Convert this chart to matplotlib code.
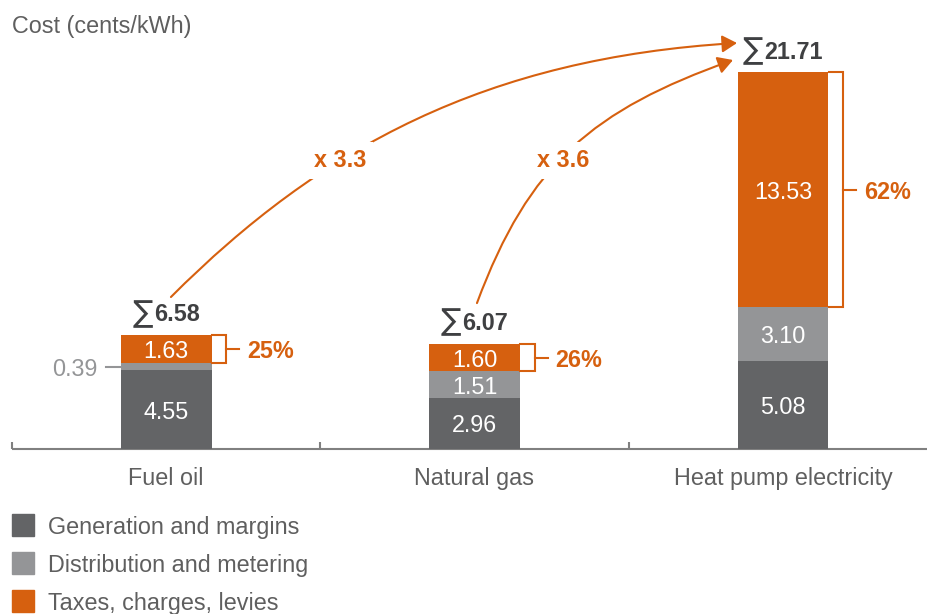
import matplotlib
matplotlib.use("Agg")
import numpy as np
import matplotlib.pyplot as plt
from matplotlib.patches import Rectangle, FancyArrowPatch
from matplotlib.path import Path

# ---------------- data ----------------
categories = ["Fuel oil", "Natural gas", "Heat pump electricity"]
generation = [4.55, 2.96, 5.08]
distribution = [0.39, 1.51, 3.10]
taxes = [1.63, 1.60, 13.53]
totals = [6.58, 6.07, 21.71]
tax_shares = ["25%", "26%", "62%"]
multipliers = ["x 3.3", "x 3.6"]
series_names = ["Generation and margins", "Distribution and metering",
                "Taxes, charges, levies"]
y_title = "Cost (cents/kWh)"

# ---------------- style ----------------
C_GEN = "#636466"
C_DIST = "#949597"
C_TAX = "#D6600F"
C_TEXT = "#5f5f5f"
C_SUM = "#3f4042"
C_AXIS = "#808080"
FS = 16.8
VA = "center_baseline"
plt.rcParams["font.family"] = ["Liberation Sans", "DejaVu Sans"]

W, H = 928, 614
fig = plt.figure(figsize=(W / 100, H / 100), dpi=100)
ax = fig.add_axes([0, 0, 1, 1])
# scale: category spacing 308.5 px, 17.35 px per cent/kWh, baseline at 449 px
XS, YS, X0, Y0 = 308.5, 17.35, 166, 449
ax.set_xlim(-X0 / XS, (W - X0) / XS)
ax.set_ylim((Y0 - H) / YS, Y0 / YS)
ax.axis("off")

x = np.arange(len(categories))
gen = np.array(generation)
dist = np.array(distribution)
tax = np.array(taxes)
bw = 91 / XS

# baseline and ticks
ax.plot([-0.5, 2.6], [0, 0], color=C_AXIS, lw=1.5, zorder=1,
        solid_capstyle="butt")
for t in [-0.5, 0.5, 1.5, 2.5]:
    ax.plot([t, t], [0, 7 / YS], color=C_AXIS, lw=1.5, zorder=1,
            solid_capstyle="butt")

# bars
ax.bar(x, gen, bw, color=C_GEN, zorder=2)
ax.bar(x, dist, bw, bottom=gen, color=C_DIST, zorder=2)
ax.bar(x, tax, bw, bottom=gen + dist, color=C_TAX, zorder=2)

# segment value labels
for i in range(len(x)):
    bottoms = [0, gen[i], gen[i] + dist[i]]
    for val, b in zip([gen[i], dist[i], tax[i]], bottoms):
        if val >= 1:
            ax.text(x[i], b + val / 2, f"{val:.2f}", ha="center", va=VA,
                    color="white", fontsize=FS, zorder=3)
        else:
            ym = b + val / 2
            xl = x[i] - bw / 2
            ax.plot([xl - 15 / XS, xl], [ym, ym], color=C_DIST, lw=1.5,
                    zorder=3)
            ax.text(xl - 23 / XS, ym, f"{val:.2f}", ha="right", va=VA,
                    color=C_DIST, fontsize=FS, zorder=3)

# brackets with tax shares
for i in range(len(x)):
    y0 = gen[i] + dist[i]
    y1 = y0 + tax[i]
    xe = x[i] + bw / 2
    xb = xe + 14.5 / XS
    ax.plot([xe, xb, xb, xe], [y1, y1, y0, y0], color=C_TAX, lw=1.5,
            zorder=3, solid_joinstyle="miter")
    ym = (y0 + y1) / 2
    ax.plot([xb, xb + 13 / XS], [ym, ym], color=C_TAX, lw=1.5, zorder=3)
    ax.text(xb + 21 / XS, ym, tax_shares[i], ha="left", va=VA,
            color=C_TAX, fontsize=FS, fontweight="bold", zorder=3)

# totals: thin sum sign + bold number, centred over the bar as a group
renderer = fig.canvas.get_renderer()
SIG_DY = 1.5
for i in range(len(x)):
    num = f"{totals[i]:.2f}"
    anchor = (x[i], totals[i] + 1.3)
    sig = ax.annotate("\u2211", anchor, xytext=(0, SIG_DY),
                      textcoords="offset points", ha="left", va=VA,
                      color=C_SUM, fontsize=FS * 1.3, zorder=3,
                      family=["DejaVu Sans"])
    nt = ax.annotate(num, anchor, xytext=(0, 0), textcoords="offset points",
                     ha="left", va=VA, color=C_SUM, fontsize=FS,
                     fontweight="bold", zorder=3)
    sw = sig.get_window_extent(renderer).width
    nw = nt.get_window_extent(renderer).width
    gap = 1.0
    left = -(sw + gap + nw) / 2
    sig.set_position((left * 0.72, SIG_DY))
    nt.set_position(((left + sw + gap) * 0.72, 0))

# curved arrows (anchored on totals)
def arrow(p0, p1, p2, p3):
    path = Path([p0, p1, p2, p3],
                [Path.MOVETO, Path.CURVE4, Path.CURVE4, Path.CURVE4])
    ap = FancyArrowPatch(path=path,
                         arrowstyle="-|>,head_length=0.45,head_width=0.26",
                         mutation_scale=20, color=C_TAX, lw=1.5, zorder=2)
    ax.add_patch(ap)

top = totals[2]
arrow((x[0] + 0.016, totals[0] + 2.18), (x[0] + 0.502, totals[0] + 10.83),
      (x[2] - 0.960, top + 0.83), (x[2] - 0.149, top + 1.69))
arrow((x[1] + 0.008, totals[1] + 2.34), (x[1] + 0.177, totals[1] + 10.41),
      (x[2] - 0.616, top - 2.17), (x[2] - 0.162, top + 0.71))

mult_pos = [(0.564, 16.79), (1.287, 16.79)]
for (mx, my), lab in zip(mult_pos, multipliers):
    ax.text(mx, my, lab, ha="center", va=VA, color=C_TAX, fontsize=FS,
            fontweight="bold", zorder=4,
            bbox=dict(boxstyle="square,pad=0.3", fc="white", ec="none"))

# category labels
for i, c in enumerate(categories):
    ax.text(x[i], -1.56, c, ha="center", va=VA, color=C_TEXT,
            fontsize=FS)

# title
fig.text(12 / W, 1 - 24 / H, y_title, ha="left", va=VA, color=C_TEXT,
         fontsize=FS)

# legend
for k, (name, col) in enumerate(zip(series_names, [C_GEN, C_DIST, C_TAX])):
    cy = 525 + 38 * k
    fig.patches.append(Rectangle((12 / W, 1 - (cy + 11) / H), 22 / W, 22 / H,
                                 transform=fig.transFigure, color=col))
    fig.text(48 / W, 1 - cy / H, name, ha="left", va=VA, color=C_TEXT,
             fontsize=FS)

fig.savefig("out.png", dpi=100)
